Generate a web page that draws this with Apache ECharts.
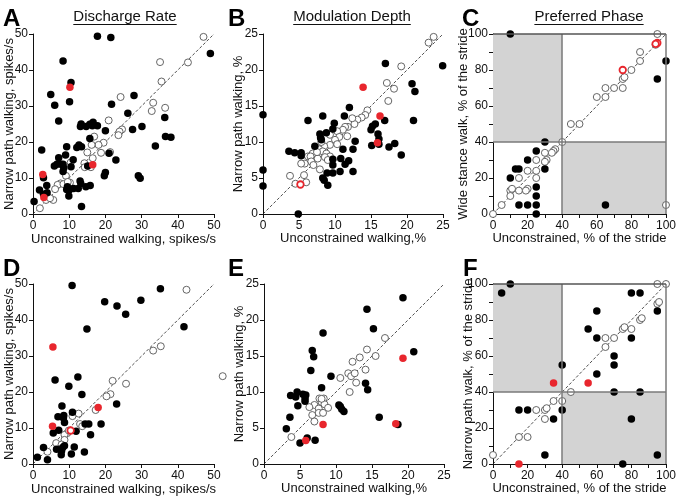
<!DOCTYPE html>
<html><head><meta charset="utf-8">
<script src="https://cdn.jsdelivr.net/npm/echarts@6/dist/echarts.min.js"></script>
<style>html,body{margin:0;padding:0;background:#fff}#c{width:679px;height:499px}</style>
</head><body><div id="c"></div>
<script>
// ---------- DATA ----------
const panelLetters = ['A','B','C','D','E','F'];
const panelTitles = ['Discharge Rate','Modulation Depth','Preferred Phase'];
const xNames = ['Unconstrained walking, spikes/s','Unconstrained walking,%','Unconstrained, % of the stride',
                'Unconstrained walking, spikes/s','Unconstrained walking,%','Unconstrained, % of the stride'];
const yNames = ['Narrow path walking, spikes/s','Narrow path walking, %','Wide stance walk, % of the stride',
                'Narrow path walking, spikes/s','Narrow path walking, %','Narrow path walk, % of the stride'];
const axisMax = [50,25,100,50,25,100];
const axisStep = [10,5,10,10,5,10];
const phaseBoundary = 40;

// Panel A
const aFilled = [[17.8,49.4],[21.5,49.0],[8.3,42.5],[49.0,44.6],[10.5,36.5],[4.9,33.2],[6.0,30.2],[10.1,31.2],[21.7,30.5],[27.9,32.9],[26.2,28.0],[7.1,25.8],[13.3,25.0],[13.1,24.3],[14.7,24.3],[16.6,25.5],[16.4,24.5],[17.8,24.5],[15.7,24.9],[27.5,23.5],[30.1,24.3],[36.4,26.8],[36.6,21.5],[38.1,21.3],[33.8,18.9],[2.4,17.8],[9.3,18.7],[12.1,18.5],[12.7,19.2],[13.4,18.7],[15.7,21.0],[20.0,23.1],[21.0,16.9],[22.9,15.0],[7.1,15.6],[9.0,16.4],[5.9,13.3],[6.6,13.8],[7.7,13.8],[8.3,13.8],[8.5,12.8],[8.3,11.8],[11.1,15.1],[10.5,13.1],[15.1,13.3],[20.0,11.5],[19.7,10.6],[29.1,10.6],[29.6,9.9],[2.9,10.1],[13.0,9.2],[13.2,8.5],[3.8,7.9],[1.8,6.7],[3.9,5.9],[9.5,7.6],[9.9,6.5],[9.9,5.0],[11.2,7.1],[12.5,7.1],[14.6,7.6],[15.8,7.9],[2.9,5.5],[0.3,3.5],[13.4,2.1],[9.3,6.8]];
const aOpen = [[47.1,49.2],[35.1,42.2],[42.8,42.1],[35.5,36.8],[24.2,32.5],[33.2,30.9],[32.8,28.6],[36.5,29.5],[20.9,26.0],[24.6,23.5],[23.9,22.9],[23.6,21.9],[16.9,21.5],[19.5,19.8],[18.1,19.2],[16.2,19.2],[18.8,17.0],[15.0,17.1],[16.5,15.5],[16.0,13.0],[14.2,14.1],[21.3,17.2],[10.4,14.3],[9.1,10.6],[7.6,8.5],[6.8,8.1],[8.4,8.3],[6.1,6.9],[10.2,8.7],[5.6,3.9],[3.6,3.9],[1.9,1.6],[4.7,4.4],[9.6,8.9],[14.3,13.0]];
const aRed = [[10.2,35.2],[2.7,11.0],[16.5,13.7],[3.0,4.6]];
const aRedOpen = [];

// Panel B
const bFilled = [[0,13.8],[0,6.1],[0,3.9],[4.9,0],[17.0,20.9],[24.95,20.6],[20.7,18.1],[21.1,17.0],[20.9,13.0],[6.25,13.0],[8.3,13.6],[12.0,14.8],[11.3,13.6],[9.9,12.6],[7.9,11.1],[8.0,10.6],[8.1,10.3],[8.8,11.3],[9.7,11.8],[12.8,10.1],[7.2,9.4],[3.6,8.7],[4.4,8.5],[5.3,8.5],[5.3,8.1],[11.1,9.0],[12.5,9.0],[9.7,7.6],[10.8,7.7],[11.9,7.4],[11.4,6.9],[9.7,6.8],[9.7,5.7],[8.9,5.7],[10.7,5.9],[12.5,5.9],[8.3,5.0],[8.5,4.7],[9.0,4.0],[15.2,12.2],[15.6,12.5],[16.9,13.0],[15.0,11.7],[15.97,11.1],[15.1,9.5],[16.1,9.7],[17.5,9.3],[18.3,9.8],[19.2,8.2],[16.1,10.4]];
const bOpen = [[23.7,24.6],[23.0,23.8],[19.2,20.5],[17.2,18.2],[18.2,17.4],[17.4,15.7],[14.5,14.4],[14.2,13.75],[13.7,13.4],[13.1,13.1],[12.7,12.5],[12.4,13.3],[11.8,12.1],[11.4,12.1],[11.1,11.7],[10.3,11.5],[10.6,10.7],[11.7,10.8],[9.3,11.0],[10.0,10.3],[10.3,9.7],[9.3,9.6],[8.5,9.4],[7.8,9.0],[6.9,8.4],[6.25,8.0],[6.6,8.0],[8.3,8.7],[8.8,8.4],[9.3,8.0],[8.6,7.9],[7.6,7.7],[6.7,7.3],[7.0,6.8],[7.9,6.2],[9.0,7.5],[5.8,7.0],[5.3,7.0],[5.7,5.4],[3.75,5.3],[4.5,4.2],[6.0,4.4],[8.1,10.0],[7.5,8.6]];
const bRed = [[13.9,17.6],[16.25,13.6],[15.9,9.9]];
const bRedOpen = [[5.2,4.1]];

// Panel C
const cFilled = [[10,100],[100,85],[95,75],[65,5],[30,40],[25,35],[30,25],[13,25],[15,25],[20,30],[10,20],[25,15],[25,10],[25,5],[25,0],[15,5],[20,5]];
const cOpen = [[95,100],[94,94],[85,90],[85,85],[80,80],[75,75],[76,76],[75,70],[70,70],[65,70],[65,65],[60,65],[50,50],[45,50],[40,40],[36,36],[35,35],[34,34],[30,34],[31,30],[30,29],[25,30],[20,24],[25,24],[15,20],[25,20],[10,13],[11,14],[15,13],[20,14],[19,13],[10,10],[5,5],[0,0],[100,5]];
const cRed = [];
const cRedOpen = [[95,95],[94,94.5],[75,80]];

// Panel D
const dFilled = [[10.8,49.6],[35.2,48.7],[19.8,45.1],[29.8,45.5],[23.2,43.9],[25.6,41.6],[14.9,37.5],[41.7,38.1],[6.1,23.3],[12.4,24.2],[9.9,21.6],[13.5,19.3],[23.1,16.7],[8.0,16.1],[10.9,14.4],[6.9,13.1],[8.5,13.5],[8.4,12.8],[8.7,11.5],[14.4,11.1],[15.4,11.1],[18.8,11.1],[11.9,9.1],[5.6,8.6],[7.1,9.4],[15.9,8.1],[2.9,4.6],[6.5,4.1],[8.2,4.6],[8.7,5.1],[7.8,2.6],[10.6,2.8],[11.4,4.7],[14.2,3.3],[1.2,1.9],[4.0,1.2],[7.9,3.7]];
const dOpen = [[42.4,48.4],[35.3,32.7],[33.2,31.5],[52.4,24.4],[22.0,23.1],[25.7,22.3],[21.4,19.4],[20.3,18.8],[17.3,15.0],[12.6,14.0],[10.9,13.3],[13.0,11.1],[13.6,10.5],[9.5,8.6],[8.7,8.1],[8.7,6.7],[6.4,5.8],[7.9,5.4],[4.0,3.4],[9.9,9.3]];
const dRed = [[5.5,32.5],[5.4,10.5],[18.0,15.7]];
const dRedOpen = [[10.4,9.3]];

// Panel E
const eFilled = [[19.3,23.1],[14.3,21.5],[15.2,18.8],[8.2,18.2],[6.7,15.75],[6.9,14.9],[20.8,15.6],[6.5,13.0],[9.3,12.2],[8.0,10.6],[14.1,11.2],[14.4,10.3],[4.6,10.0],[3.7,9.5],[4.4,9.3],[5.4,9.7],[5.8,9.6],[5.7,9.1],[5.7,8.7],[4.7,8.1],[3.6,6.5],[3.1,4.9],[10.4,8.2],[10.6,8.0],[10.8,7.6],[11.1,7.3],[16.0,6.5],[18.6,5.5],[5.0,2.9],[6.0,3.6],[7.1,3.3]];
const eOpen = [[16.8,17.5],[14.3,15.9],[15.5,15.0],[13.3,14.8],[12.3,14.2],[11.7,12.6],[12.1,12.2],[12.6,12.6],[14.1,13.1],[10.6,11.95],[12.8,11.3],[11.9,10.0],[7.7,9.1],[8.3,9.1],[8.0,8.6],[8.4,8.3],[7.0,8.2],[6.3,7.9],[7.6,7.7],[8.9,7.8],[7.6,7.1],[8.2,7.1],[6.7,6.8],[7.0,5.9],[3.8,3.75],[8.0,9.05]];
const eRed = [[19.3,14.7],[8.2,5.5],[18.3,5.6],[5.8,3.25]];
const eRedOpen = [];

// Panel F
const fFilled = [[10,100],[5,95],[80,95],[85,95],[95,85],[60,85],[55,75],[60,70],[80,70],[70,60],[70,55],[60,50],[40,55],[70,40],[85,40],[15,30],[20,30],[40,30],[35,25],[80,25],[30,5],[95,5],[75,0]];
const fOpen = [[95,100],[100,100],[95,89],[96,90],[85,80],[86,81],[75,75],[76,76],[80,75],[65,70],[70,70],[65,65],[45,40],[40,35],[35,35],[30,30],[31,31],[25,30],[30,25],[15,15],[20,15],[0,5]];
const fRed = [[35,45],[55,45],[15,0]];
const fRedOpen = [];

const filledSets = [aFilled,bFilled,cFilled,dFilled,eFilled,fFilled];
const openSets = [aOpen,bOpen,cOpen,dOpen,eOpen,fOpen];
const redSets = [aRed,bRed,cRed,dRed,eRed,fRed];
const redOpenSets = [aRedOpen,bRedOpen,cRedOpen,dRedOpen,eRedOpen,fRedOpen];

// ---------- LAYOUT / STYLE ----------
const FONT = '"Liberation Sans", Arial, sans-serif';
const RED = '#e8262d';
const grids = [
  {left:33, top:34, width:181, height:180},
  {left:263, top:34, width:180, height:180},
  {left:493, top:34, width:181, height:180},
  {left:33, top:284, width:181, height:180},
  {left:264, top:284, width:180, height:180},
  {left:493, top:284, width:181, height:180}
];
const xGaps = [19,17.5,18,19,17.5,17.5];
const yGaps = [17.5,18.5,23,17.5,18.5,18.5];
const letterPos = [[3,7],[228,7],[462,7],[3,257],[228,257],[463,257]];
const titleCenters = [125,352,589];

const chart = echarts.init(document.getElementById('c'), null, {renderer:'canvas'});
const xAxes = [], yAxes = [], series = [];

function axisCommon(i, name, isX) {
  const phase = axisMax[i] === 100;
  return {
    gridIndex: i, type:'value', min:0, max:axisMax[i], interval:axisStep[i],
    name: name, nameLocation:'middle', nameGap: isX ? xGaps[i] : yGaps[i], nameRotate: isX ? 0 : 90,
    nameMoveOverlap:false,
    nameTextStyle:{fontFamily:FONT, fontSize:13, color:'#111'},
    splitLine:{show:false},
    axisLine:{show:true, onZero:false, lineStyle:{color:'#111', width:1}},
    axisTick:{show:true, inside:false, length:4, lineStyle:{color:'#111'}},
    axisLabel:{fontFamily:FONT, fontSize:12, color:'#111', margin: isX ? 6 : 5,
      formatter: phase ? (v => (v % 20 === 0 ? String(v) : '')) : (v => String(v))}
  };
}

for (let i = 0; i < 6; i++) {
  xAxes.push(axisCommon(i, xNames[i], true));
  yAxes.push(axisCommon(i, yNames[i], false));
  const m = axisMax[i];
  const diag = {
    type:'line', xAxisIndex:i, yAxisIndex:i, data:[[0,0],[m,m]], symbol:'none', z:1,
    lineStyle:{color:'#222', width:0.8, type:[3,2]}, silent:true, clip:false
  };
  if (m === 100) {
    const b = phaseBoundary;
    diag.markArea = {silent:true, itemStyle:{color:'#d3d3d3'},
      data:[[{coord:[0,b]},{coord:[b,100]}],[{coord:[b,0]},{coord:[100,b]}]]};
    diag.markLine = {silent:true, symbol:'none', label:{show:false},
      lineStyle:{color:'#7a7a7a', width:1.5, type:'solid'},
      data:[{xAxis:b},{yAxis:b},{xAxis:100},{yAxis:100, lineStyle:{color:'#555', width:1.5, type:'solid'}}]};
  }
  series.push(diag);
  series.push({type:'scatter', xAxisIndex:i, yAxisIndex:i, data:openSets[i], symbolSize:7, clip:false, z:3,
    itemStyle:{color:'#fff', borderColor:'#555', borderWidth:0.9, opacity:1}});
  series.push({type:'scatter', xAxisIndex:i, yAxisIndex:i, data:filledSets[i], symbolSize:7.5, clip:false, z:4,
    itemStyle:{color:'#000', opacity:1}});
  series.push({type:'scatter', xAxisIndex:i, yAxisIndex:i, data:redSets[i], symbolSize:7.5, clip:false, z:5,
    itemStyle:{color:RED, opacity:1}});
  series.push({type:'scatter', xAxisIndex:i, yAxisIndex:i, data:redOpenSets[i], symbolSize:6.5, clip:false, z:5,
    itemStyle:{color:'#fff', borderColor:RED, borderWidth:1.8, opacity:1}});
}

// Text widths for underlines
const mctx = document.createElement('canvas').getContext('2d');
mctx.font = '15px ' + FONT;
const graphics = [];
panelLetters.forEach((L, i) => {
  graphics.push({type:'text', left:letterPos[i][0], top:letterPos[i][1],
    style:{text:L, font:'bold 24px ' + FONT, fill:'#000'}});
});
panelTitles.forEach((t, i) => {
  const w = mctx.measureText(t).width;
  const cx = titleCenters[i];
  graphics.push({type:'text', x:cx, y:9, style:{text:t, font:'15px ' + FONT, fill:'#111', align:'center', textAlign:'center'}});
  graphics.push({type:'line', shape:{x1:cx - w/2, y1:24.5, x2:cx + w/2, y2:24.5}, style:{stroke:'#111', lineWidth:1}});
});

chart.setOption({
  animation:false, backgroundColor:'#fff',
  grid: grids.map(g => Object.assign({containLabel:false}, g)),
  xAxis: xAxes, yAxis: yAxes, series: series, graphic: graphics
});
</script></body></html>
